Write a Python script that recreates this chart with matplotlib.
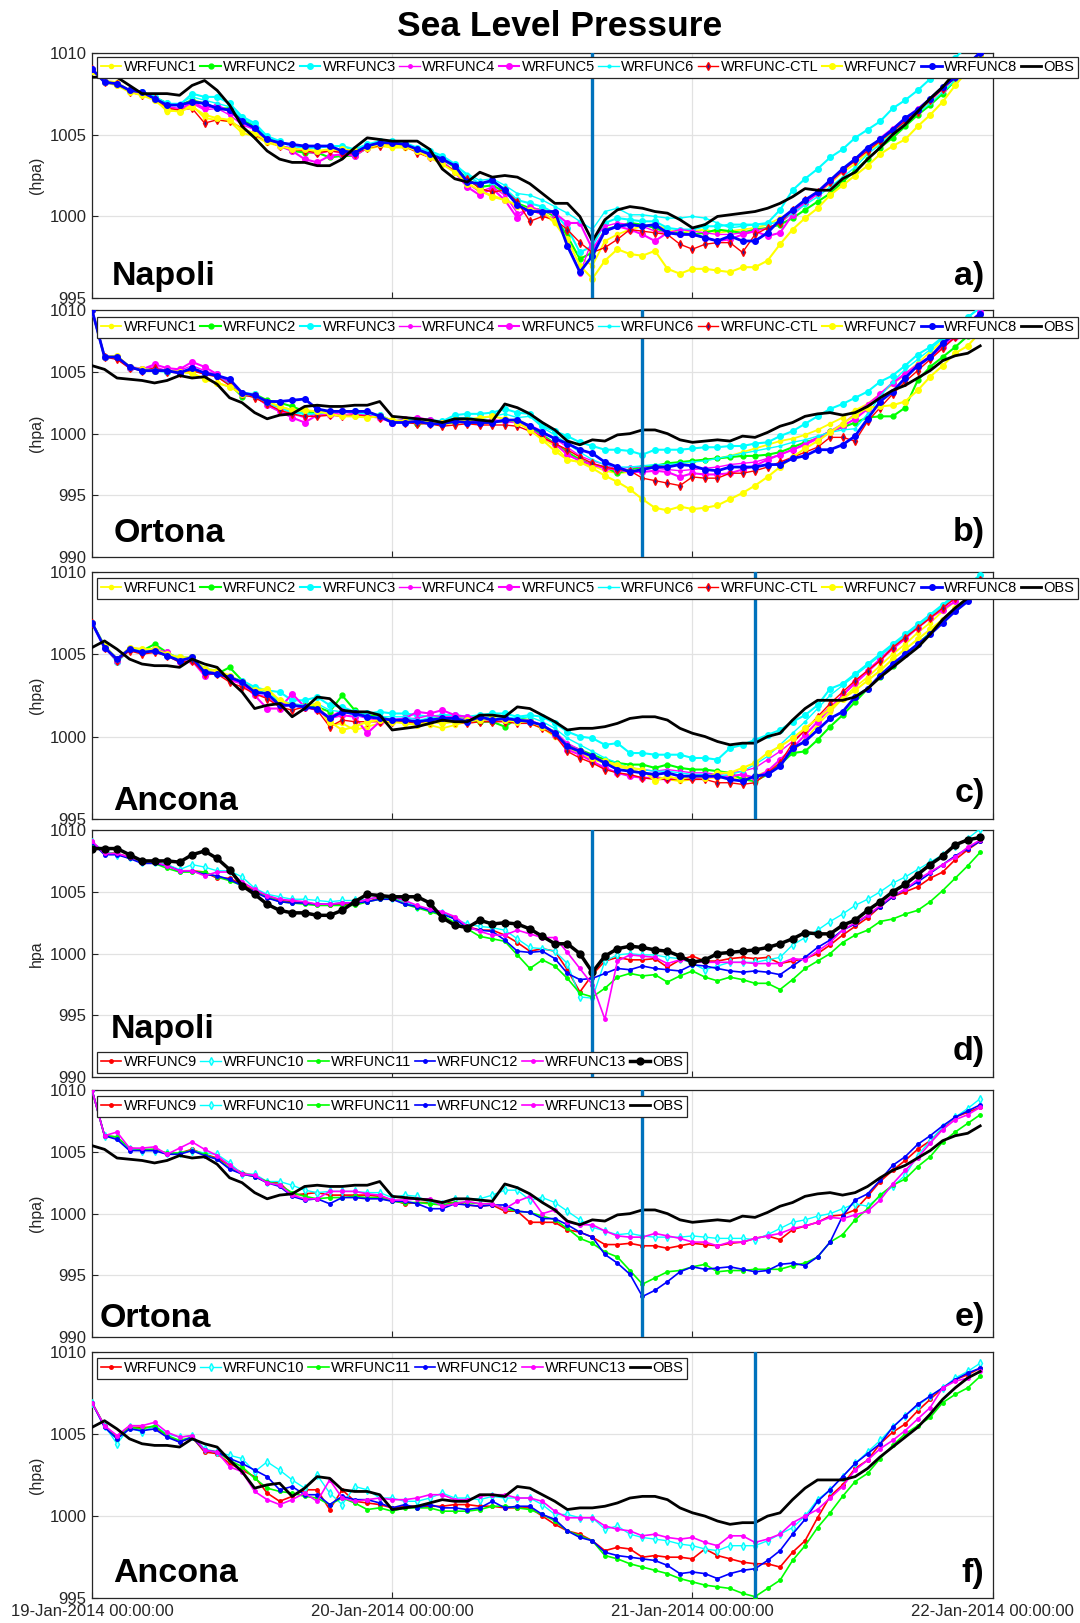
import numpy as np
import matplotlib
matplotlib.use('Agg')
import matplotlib.pyplot as plt
import matplotlib.dates as mdates

plt.rcParams['font.family'] = ['Liberation Sans', 'DejaVu Sans']

# ---------------- data (hourly, starting 19-Jan-2014 00:00) ----------------
napoli_obs = [1008.5,1008.5,1008.5,1008.0,1007.5,1007.5,1007.5,1007.4,1008.0,1008.3,1007.7,1006.8,
              1005.5,1004.8,1004.0,1003.5,1003.3,1003.3,1003.1,1003.1,1003.5,1004.2,1004.8,1004.7,
              1004.6,1004.6,1004.6,1004.1,1002.9,1002.3,1002.1,1002.7,1002.4,1002.5,1002.4,1002.0,
              1001.4,1000.8,1000.8,1000.0,998.5,999.8,1000.4,1000.6,1000.5,1000.3,1000.2,999.8,
              999.3,999.5,1000.0,1000.1,1000.2,1000.3,1000.5,1000.8,1001.2,1001.7,1001.6,1001.6,
              1002.3,1002.7,1003.5,1004.2,1005.0,1005.6,1006.4,1007.2,1007.9,1008.8,1009.2,1009.4]
ortona_obs = [1005.5,1005.2,1004.5,1004.4,1004.3,1004.1,1004.3,1004.7,1004.5,1004.6,1004.0,1002.9,
              1002.5,1001.7,1001.2,1001.5,1001.6,1002.2,1002.3,1002.2,1002.2,1002.3,1002.3,1002.6,
              1001.4,1001.3,1001.2,1001.1,1000.9,1001.2,1001.2,1001.1,1001.0,1002.4,1002.1,1001.6,
              1000.9,1000.3,999.4,999.1,999.5,999.4,999.9,1000.0,1000.3,1000.3,1000.0,999.5,
              999.3,999.4,999.5,999.4,999.8,999.7,1000.1,1000.6,1000.9,1001.4,1001.6,1001.7,
              1001.5,1001.7,1002.2,1002.9,1003.5,1003.9,1004.5,1005.1,1005.9,1006.3,1006.5,1007.1]
ancona_obs = [1005.4,1005.8,1005.3,1004.7,1004.4,1004.3,1004.3,1004.2,1004.7,1004.4,1004.2,1003.4,
              1002.7,1001.7,1001.9,1002.0,1001.2,1001.7,1002.4,1002.3,1001.6,1001.5,1001.5,1001.3,
              1000.4,1000.5,1000.6,1000.8,1001.0,1000.9,1000.9,1001.3,1001.3,1001.2,1001.8,1001.7,
              1001.3,1000.9,1000.4,1000.5,1000.5,1000.6,1000.8,1001.1,1001.2,1001.2,1001.0,1000.5,
              1000.2,1000.0,999.7,999.5,999.6,999.6,1000.0,1000.2,1001.0,1001.7,1002.2,1002.2,
              1002.2,1002.4,1002.9,1003.6,1004.2,1004.8,1005.4,1006.2,1007.1,1007.8,1008.4,1008.8]

# ---- Napoli, runs 1-8 + CTL ----
nap_w1 = [1008.8,1008.3,1008.2,1007.7,1007.5,1007.2,1006.4,1006.5,1006.8,1006.0,1005.9,1005.8,
          1005.1,1004.9,1004.5,1004.3,1004.1,1004.0,1003.9,1004.0,1004.0,1003.9,1004.1,1004.3,
          1004.2,1004.2,1004.0,1003.6,1003.3,1002.8,1002.1,1001.5,1001.3,1001.0,1000.6,1000.3,
          1000.2,999.6,998.5,997.5,997.0,998.5,998.9,999.2,999.4,999.5,999.2,999.0,
          999.1,999.2,999.0,999.1,999.2,999.3,999.5,999.9,1000.3,1000.8,1001.4,1002.0,
          1002.7,1003.2,1003.9,1004.5,1005.1,1005.6,1006.2,1006.9,1007.6,1008.3,1009.1,1009.8]
nap_w2 = [1009.0,1008.2,1008.1,1007.7,1007.6,1007.3,1006.9,1006.8,1007.1,1006.9,1006.6,1006.6,
          1005.9,1005.5,1004.8,1004.4,1004.0,1003.9,1003.9,1003.6,1003.7,1003.7,1004.2,1004.4,
          1004.5,1004.4,1004.1,1003.8,1003.5,1003.0,1002.3,1001.8,1001.9,1001.5,1000.8,1000.5,
          1000.4,1000.0,998.8,997.4,997.8,999.2,999.4,999.6,999.5,999.3,999.0,999.0,
          998.9,999.0,999.2,999.1,999.0,999.2,999.3,999.5,999.9,1000.4,1000.9,1001.4,
          1002.1,1002.8,1003.5,1004.2,1004.8,1005.5,1006.2,1006.8,1007.5,1008.3,1009.1,1009.9]
nap_w3 = [1009.0,1008.2,1008.1,1007.7,1007.6,1007.3,1006.9,1006.8,1007.5,1007.3,1007.3,1006.9,
          1006.1,1005.7,1004.9,1004.6,1004.3,1004.2,1004.2,1004.3,1004.3,1004.1,1004.4,1004.6,
          1004.6,1004.5,1004.2,1004.0,1003.7,1003.2,1002.5,1002.0,1002.1,1001.7,1001.0,1000.8,
          1000.6,1000.2,999.3,997.8,998.2,999.6,999.9,999.8,999.7,999.7,999.3,999.2,
          999.2,999.4,999.4,999.5,999.5,999.5,999.6,1000.4,1001.6,1002.3,1002.9,1003.6,
          1004.1,1004.8,1005.3,1005.8,1006.6,1007.1,1007.7,1008.4,1009.0,1009.7,1010.4,1011.0]
nap_w4 = [1009.0,1008.2,1008.1,1007.6,1007.5,1007.2,1006.7,1006.6,1006.9,1006.5,1006.6,1006.2,
          1005.6,1005.3,1004.6,1004.3,1004.2,1004.0,1003.8,1004.0,1003.9,1003.8,1004.2,1004.4,
          1004.4,1004.3,1004.0,1003.7,1003.4,1002.7,1002.0,1001.5,1001.8,1001.3,1000.2,1000.4,
          1000.1,999.9,998.4,996.5,998.6,999.4,999.6,999.5,999.4,999.1,999.0,999.2,
          999.1,999.0,998.9,998.9,999.0,999.1,999.3,999.6,1000.2,1000.9,1001.5,1002.1,
          1002.8,1003.4,1004.1,1004.8,1005.4,1006.0,1006.6,1007.2,1007.9,1008.6,1009.3,1010.0]
nap_w5 = [1009.0,1008.2,1008.1,1007.7,1007.5,1007.2,1006.6,1006.5,1007.0,1006.6,1006.8,1006.4,
          1005.8,1005.3,1004.7,1004.3,1004.0,1003.5,1003.3,1003.7,1003.8,1003.7,1004.2,1004.4,
          1004.5,1004.3,1004.0,1003.6,1003.3,1002.7,1001.8,1001.3,1001.7,1001.0,999.9,1000.6,
          1000.3,1000.2,999.6,999.6,998.0,999.1,999.4,999.2,998.9,998.5,999.0,998.9,
          998.9,998.7,998.5,998.6,998.9,999.1,998.8,999.0,1000.1,1000.8,1001.4,1002.1,
          1002.8,1003.5,1004.1,1004.7,1005.3,1005.9,1006.5,1007.1,1007.8,1008.5,1009.2,1010.0]
nap_w6 = [1009.0,1008.2,1008.1,1007.7,1007.6,1007.3,1006.9,1006.9,1007.3,1007.1,1006.9,1006.7,
          1006.0,1005.6,1004.8,1004.5,1004.3,1004.2,1004.2,1004.3,1004.3,1004.0,1004.4,1004.5,
          1004.5,1004.4,1004.2,1003.9,1003.6,1003.1,1002.6,1002.2,1002.3,1001.9,1001.4,1001.3,
          1001.0,1000.6,1000.2,999.7,999.2,1000.3,1000.5,1000.1,1000.1,1000.0,999.9,999.9,
          1000.0,999.9,999.6,999.3,999.4,999.5,999.5,999.7,1000.2,1000.7,1001.2,1001.8,
          1002.4,1003.0,1003.8,1004.4,1005.1,1005.7,1006.3,1006.9,1007.6,1008.3,1009.1,1009.9]
nap_ctl = [1009.0,1008.2,1008.1,1007.6,1007.4,1007.2,1006.6,1006.5,1006.6,1005.7,1005.9,1005.8,
           1005.4,1005.0,1004.6,1004.3,1004.1,1004.0,1003.9,1004.0,1003.9,1003.8,1004.2,1004.3,
           1004.4,1004.3,1003.9,1003.6,1003.2,1002.8,1002.3,1001.7,1001.5,1001.6,1000.9,999.7,
           1000.0,999.8,999.2,998.4,997.8,998.1,998.6,999.2,999.1,999.0,998.9,998.3,
           998.0,998.3,998.4,998.4,997.8,998.9,999.3,999.6,1000.4,1001.0,1001.5,1002.1,
           1002.8,1003.4,1004.0,1004.6,1005.2,1005.8,1006.4,1007.1,1007.8,1008.5,1009.2,1009.9]
nap_w7 = [1008.9,1008.2,1008.0,1007.6,1007.4,1007.1,1006.5,1006.4,1006.7,1006.2,1006.0,1005.9,
          1005.3,1005.1,1004.6,1004.3,1004.1,1004.1,1004.0,1004.1,1004.1,1004.0,1004.2,1004.4,
          1004.3,1004.3,1004.0,1003.6,1003.2,1002.7,1002.0,1001.6,1001.2,1001.0,1000.7,1000.4,
          1000.3,999.7,998.6,997.0,996.2,997.3,998.0,997.7,997.6,997.9,996.8,996.5,
          996.8,996.8,996.7,996.6,996.9,996.9,997.3,998.3,999.2,999.9,1000.5,1001.3,
          1001.9,1002.5,1003.1,1003.8,1004.3,1004.7,1005.5,1006.2,1007.0,1008.0,1008.9,1009.8]
nap_w8 = [1009.0,1008.2,1008.1,1007.7,1007.6,1007.2,1006.8,1006.8,1007.0,1006.9,1006.6,1006.5,
          1005.8,1005.4,1004.7,1004.5,1004.4,1004.3,1004.3,1004.3,1004.0,1003.9,1004.3,1004.5,
          1004.5,1004.4,1004.1,1003.8,1003.5,1003.1,1002.1,1002.0,1002.2,1001.6,1000.7,1000.3,
          1000.3,1000.3,998.2,996.6,997.6,999.1,999.4,999.5,999.4,999.5,999.0,998.9,
          998.9,998.7,998.5,998.8,998.5,998.5,999.0,999.8,1000.4,1001.0,1001.5,1002.2,
          1002.9,1003.5,1004.2,1004.7,1005.3,1006.0,1006.5,1007.2,1007.9,1008.5,1009.3,1010.0]

# ---- Ortona, runs 1-8 + CTL ----
ort_w1 = [1010.0,1006.2,1006.3,1005.4,1005.2,1005.1,1005.1,1005.0,1004.9,1004.4,1004.1,1003.8,
          1003.2,1003.0,1002.6,1002.2,1001.9,1001.7,1001.8,1001.6,1001.5,1001.5,1001.3,1001.4,
          1001.0,1000.9,1000.9,1000.8,1000.7,1000.9,1000.9,1000.8,1000.9,1001.0,1001.2,1000.6,
          999.6,999.0,997.9,997.7,997.4,997.0,996.8,996.9,997.1,997.3,997.5,997.6,
          997.7,997.9,998.0,998.2,998.5,998.8,999.1,999.4,999.6,999.9,1000.3,1000.8,
          1001.3,1001.9,1002.4,1003.2,1004.0,1004.8,1005.7,1006.6,1007.5,1008.3,1009.0,1009.5]
ort_w2 = [1010.0,1006.2,1006.2,1005.4,1005.1,1005.2,1005.0,1005.0,1005.1,1004.9,1004.8,1004.0,
          1003.0,1003.2,1002.7,1002.5,1002.2,1001.8,1001.7,1001.7,1001.8,1001.7,1001.6,1001.5,
          1001.0,1001.0,1000.8,1000.9,1000.9,1000.9,1001.0,1000.9,1000.9,1001.0,1001.0,1000.5,
          999.9,999.2,998.5,997.9,997.5,997.3,996.8,997.1,997.3,997.4,997.6,997.7,
          997.8,997.9,998.0,998.1,998.2,998.2,998.3,998.5,998.9,999.3,999.6,1000.2,
          1000.5,1000.9,1001.3,1001.4,1001.4,1002.1,1004.3,1005.4,1006.2,1007.0,1007.9,1008.7]
ort_w3 = [1010.0,1006.2,1006.2,1005.3,1005.2,1005.1,1005.0,1005.0,1005.2,1004.9,1004.8,1004.1,
          1003.3,1003.2,1002.5,1002.1,1001.7,1001.6,1001.6,1001.7,1001.8,1001.8,1001.6,1001.5,
          1001.0,1001.1,1001.2,1001.1,1001.0,1001.5,1001.6,1001.6,1001.7,1002.0,1001.7,1001.6,
          1000.6,1000.2,999.8,999.3,999.0,998.7,998.7,998.6,998.3,998.7,998.7,998.7,
          998.8,998.9,998.9,999.0,999.0,999.2,999.3,999.8,1000.2,1000.8,1001.4,1002.0,
          1002.4,1002.9,1003.4,1004.2,1004.7,1005.5,1006.4,1007.0,1007.8,1008.7,1009.4,1010.2]
ort_w4 = [1010.0,1006.2,1006.2,1005.4,1005.3,1005.4,1005.1,1005.1,1005.5,1005.1,1004.7,1004.0,
          1003.1,1003.0,1002.3,1001.8,1001.6,1001.3,1001.6,1001.7,1001.5,1001.5,1001.5,1001.3,
          1001.0,1001.1,1001.1,1001.0,1000.9,1001.0,1001.0,1000.9,1000.9,1001.0,1001.0,1000.7,
          1000.2,999.6,998.9,998.2,997.8,997.5,997.1,997.3,997.3,997.2,997.1,997.0,
          997.1,997.2,997.3,997.5,997.6,997.7,998.0,998.3,998.7,999.2,999.7,1000.2,
          1000.8,1001.6,1002.4,1003.2,1004.1,1004.9,1005.6,1006.3,1007.1,1008.0,1008.9,1009.8]
ort_w5 = [1010.0,1006.2,1006.2,1005.3,1005.2,1005.6,1005.3,1005.2,1005.8,1005.4,1004.8,1004.1,
          1003.2,1003.1,1002.3,1001.8,1001.3,1000.9,1001.5,1001.5,1001.8,1001.6,1001.4,1001.3,
          1000.9,1001.2,1001.3,1001.1,1000.9,1001.0,1001.0,1000.9,1001.1,1001.0,1000.9,1000.4,
          999.7,999.2,998.3,997.8,997.5,997.2,997.1,996.9,996.9,997.0,996.9,996.5,
          996.8,996.7,996.7,996.8,997.1,997.4,997.9,998.3,998.7,999.1,999.6,1000.1,
          1000.6,1001.2,1002.0,1003.2,1004.1,1004.8,1005.4,1006.2,1007.0,1007.8,1008.8,1009.8]
ort_w6 = [1010.0,1006.2,1006.2,1005.4,1005.2,1005.2,1005.0,1005.0,1005.2,1004.9,1004.6,1004.0,
          1003.2,1003.0,1002.5,1002.2,1001.9,1001.6,1001.6,1001.7,1001.8,1001.7,1001.6,1001.5,
          1001.0,1001.1,1001.2,1001.0,1000.9,1001.3,1001.3,1001.2,1001.4,1001.6,1001.3,1001.4,
          1000.5,999.9,999.2,998.5,997.9,997.5,997.3,997.3,997.4,997.5,997.5,997.6,
          997.7,997.8,998.0,998.2,998.4,998.6,998.8,999.0,999.3,999.5,999.8,1000.1,
          1000.3,1000.4,1001.6,1003.0,1004.2,1005.2,1006.0,1006.8,1007.7,1008.6,1009.4,1010.2]
ort_ctl = [1010.0,1006.2,1006.0,1005.3,1005.1,1005.3,1005.0,1004.9,1005.1,1004.8,1004.6,1003.9,
           1003.2,1002.9,1002.4,1001.9,1001.6,1001.4,1001.4,1001.5,1001.4,1001.5,1001.4,1001.3,
           1001.0,1000.9,1000.8,1000.8,1000.6,1000.7,1000.8,1000.7,1000.7,1000.7,1000.6,1000.2,
           999.7,999.2,998.7,998.1,997.6,997.3,997.1,997.0,996.4,996.2,996.0,995.8,
           996.5,996.4,996.4,996.8,996.8,997.0,997.3,997.7,998.1,998.5,998.9,999.7,
           999.7,999.4,1001.0,1002.1,1003.2,1004.2,1005.1,1006.0,1006.9,1007.8,1008.7,1009.6]
ort_w7 = [1010.0,1006.2,1006.3,1005.4,1005.2,1005.1,1005.1,1005.0,1004.9,1004.4,1004.1,1003.8,
          1003.2,1003.1,1002.6,1002.2,1001.9,1001.9,1001.8,1001.6,1001.4,1001.4,1001.3,1001.4,
          1001.1,1001.0,1001.0,1000.9,1000.9,1001.1,1001.1,1001.3,1001.4,1001.2,1000.9,1000.3,
          999.5,998.6,997.9,997.7,997.2,996.6,996.1,995.5,994.7,994.0,993.8,994.1,
          993.9,994.0,994.2,994.7,995.2,995.8,996.5,997.3,998.1,998.8,999.4,1000.1,
          1000.8,1001.5,1002.1,1002.2,1002.3,1002.6,1003.5,1004.6,1005.5,1006.5,1007.1,1008.2]
ort_w8 = [1010.0,1006.2,1006.2,1005.4,1005.1,1005.1,1005.1,1004.9,1005.3,1004.9,1004.7,1004.4,
          1003.3,1003.1,1002.6,1002.6,1002.7,1002.8,1002.0,1001.8,1001.8,1001.8,1001.8,1001.4,
          1000.9,1000.9,1001.0,1000.8,1000.8,1001.0,1000.9,1000.9,1000.9,1001.1,1001.1,1000.6,
          1000.1,999.6,999.2,998.7,998.4,997.7,997.3,996.9,997.1,997.3,997.3,997.5,
          997.4,997.1,997.0,997.3,997.3,997.3,997.5,997.5,998.0,998.2,998.7,998.7,
          999.1,999.8,1001.2,1002.6,1003.4,1004.5,1005.5,1006.2,1007.3,1008.1,1008.9,1009.7]

# ---- Ancona, runs 1-8 + CTL ----
anc_w1 = [1006.9,1005.5,1004.6,1005.4,1005.3,1005.3,1004.9,1004.7,1004.8,1004.0,1003.9,1003.6,
          1003.2,1002.8,1002.8,1002.1,1002.0,1001.8,1002.0,1000.7,1000.8,1000.4,1000.6,1000.8,
          1000.9,1000.9,1000.7,1000.7,1000.5,1000.7,1000.9,1000.9,1001.1,1001.0,1000.9,1000.8,
          1000.5,1000.0,999.3,999.0,998.6,998.4,998.2,998.0,997.8,997.6,997.4,997.3,
          997.4,997.5,997.5,997.5,997.5,997.6,997.9,998.4,999.1,999.8,1000.7,1001.5,
          1002.3,1003.0,1003.6,1004.3,1005.0,1005.6,1006.3,1006.9,1007.6,1008.2,1008.8,1009.4]
anc_w2 = [1006.9,1005.5,1004.7,1005.3,1005.2,1005.6,1005.1,1004.7,1004.8,1004.0,1003.8,1004.2,
          1003.4,1002.8,1002.6,1002.0,1001.9,1001.9,1001.8,1001.5,1002.5,1001.6,1001.3,1001.2,
          1001.0,1001.0,1000.9,1001.1,1001.1,1001.1,1001.1,1000.9,1000.9,1000.6,1001.1,1001.0,
          1000.6,1000.3,999.5,999.2,998.9,998.6,998.4,998.3,998.3,998.1,998.3,998.1,
          998.0,998.0,997.9,997.8,997.4,997.3,997.7,998.3,999.0,999.1,999.8,1000.6,
          1001.3,1002.1,1002.9,1003.6,1004.3,1005.0,1005.6,1006.3,1007.0,1007.7,1008.4,1009.1]
anc_w3 = [1006.9,1005.5,1004.5,1005.3,1005.1,1005.3,1005.0,1004.8,1004.8,1004.1,1004.0,1003.6,
          1003.4,1003.0,1002.8,1002.7,1002.2,1002.2,1002.4,1001.9,1001.8,1001.5,1001.4,1001.5,
          1001.4,1001.4,1001.3,1001.2,1001.3,1001.3,1001.2,1001.3,1001.4,1001.4,1001.2,1001.3,
          1001.2,1000.8,1000.3,1000.0,999.9,999.5,999.6,999.0,999.0,998.9,998.9,998.9,
          998.7,998.7,998.6,999.3,999.5,999.8,1000.1,1000.4,1000.9,1001.3,1001.9,1002.9,
          1003.2,1003.8,1004.4,1005.0,1005.6,1006.2,1006.8,1007.4,1008.0,1008.6,1009.2,1009.8]
anc_w4 = [1006.9,1005.4,1004.6,1005.3,1005.2,1005.3,1005.0,1004.6,1004.8,1003.9,1003.9,1003.4,
          1003.2,1002.6,1002.4,1001.8,1001.9,1001.7,1001.7,1001.2,1001.6,1001.3,1001.1,1001.0,
          1001.0,1001.1,1001.1,1001.3,1001.2,1001.2,1001.0,1001.1,1001.1,1001.0,1001.0,1001.0,
          1000.7,1000.3,999.6,999.2,998.8,998.5,998.3,998.1,998.0,997.9,998.0,997.9,
          997.8,997.8,997.7,997.8,997.9,998.1,998.6,999.1,999.7,1000.4,1001.1,1001.8,
          1002.5,1003.2,1003.9,1004.6,1005.3,1005.9,1006.6,1007.2,1007.8,1008.4,1009.0,1009.6]
anc_w5 = [1006.9,1005.4,1004.6,1005.3,1005.1,1005.3,1005.1,1004.5,1004.6,1003.7,1003.9,1003.5,
          1003.2,1002.5,1001.7,1001.7,1002.6,1001.8,1001.6,1001.1,1001.3,1001.2,1000.2,1000.9,
          1001.0,1001.1,1001.5,1001.4,1001.6,1001.3,1001.2,1001.1,1001.0,1001.1,1001.0,1000.9,
          1000.6,1000.1,999.2,998.9,998.5,998.1,997.8,997.6,997.5,997.5,997.4,997.5,
          997.5,997.5,997.6,997.6,997.7,997.5,997.9,998.6,999.3,1000.1,1000.9,1001.7,
          1002.5,1003.3,1004.0,1004.7,1005.4,1006.0,1006.6,1007.2,1007.7,1008.2,1008.7,1009.3]
anc_w6 = [1006.9,1005.4,1004.6,1005.4,1005.2,1005.3,1005.0,1004.7,1004.8,1004.1,1004.0,1003.6,
          1003.3,1002.8,1002.6,1002.2,1002.0,1001.9,1002.0,1001.6,1001.5,1001.3,1001.2,1001.2,
          1001.2,1001.2,1001.0,1001.1,1001.1,1001.1,1001.0,1001.1,1001.2,1001.2,1001.1,1001.2,
          1000.9,1000.5,999.9,999.5,999.1,998.7,998.4,998.1,998.0,997.9,997.9,997.8,
          997.7,997.7,997.6,997.7,997.9,998.3,998.8,999.5,1000.2,1000.9,1001.7,1002.5,
          1003.1,1003.7,1004.3,1004.9,1005.5,1006.1,1006.7,1007.3,1007.9,1008.5,1009.1,1009.7]
anc_ctl = [1006.9,1005.4,1004.6,1005.2,1005.0,1005.1,1004.9,1004.5,1004.6,1003.8,1003.8,1003.3,
           1003.0,1002.6,1002.3,1001.8,1001.6,1001.8,1001.6,1000.6,1001.0,1000.9,1000.9,1000.9,
           1000.9,1000.9,1000.8,1000.9,1000.9,1000.9,1000.8,1000.9,1000.9,1000.9,1000.8,1000.8,
           1000.5,1000.1,999.1,998.7,998.4,998.0,997.8,997.7,997.5,997.4,997.4,997.4,
           997.4,997.4,997.2,997.2,997.1,997.2,997.8,998.4,999.6,1000.4,1001.2,1002.0,
           1002.7,1003.4,1004.0,1004.6,1005.4,1006.0,1006.6,1007.2,1007.8,1008.4,1009.0,1009.5]
anc_w7 = [1006.9,1005.5,1004.7,1005.4,1005.3,1005.3,1005.0,1004.8,1004.8,1004.1,1004.0,1003.7,
          1003.3,1002.8,1002.9,1002.2,1001.9,1001.8,1002.0,1000.9,1000.4,1000.6,1000.9,1001.0,
          1000.9,1000.8,1000.7,1000.9,1000.8,1000.9,1001.0,1001.0,1001.1,1001.0,1000.9,1000.9,
          1000.6,1000.2,999.4,999.1,998.7,998.5,998.3,998.1,998.0,997.3,997.6,997.4,
          997.6,997.5,997.8,997.8,998.1,998.4,999.0,999.4,999.9,1000.5,1001.1,1001.7,
          1002.3,1002.8,1003.4,1004.0,1004.7,1005.3,1005.9,1006.5,1007.1,1007.8,1008.4,1009.0]
anc_w8 = [1006.9,1005.4,1004.7,1005.3,1005.1,1005.2,1004.9,1004.6,1004.8,1003.9,1003.8,1003.6,
          1003.3,1002.7,1002.6,1001.9,1001.9,1001.8,1001.7,1001.1,1001.5,1001.4,1001.2,1001.1,
          1001.0,1001.0,1000.9,1001.0,1001.1,1001.1,1000.9,1001.2,1001.0,1001.1,1001.0,1000.9,
          1000.7,1000.2,999.4,999.1,998.8,998.4,998.0,997.9,997.8,997.7,997.8,997.6,
          997.6,997.6,997.6,997.4,997.3,997.6,997.7,998.2,999.3,999.7,1000.4,1001.1,
          1001.5,1002.4,1002.9,1003.7,1004.4,1005.0,1005.6,1006.2,1006.9,1007.6,1008.2,1008.9]

# ---- Napoli, runs 9-13 ----
nap_w9 = [1009.0,1008.2,1008.1,1007.8,1007.4,1007.4,1007.2,1006.7,1006.7,1006.6,1006.1,1006.1,
          1005.6,1005.1,1004.7,1004.3,1004.2,1004.1,1004.0,1003.9,1004.0,1004.0,1004.2,1004.5,
          1004.5,1004.2,1003.8,1003.5,1003.3,1002.9,1002.2,1001.9,1001.9,1001.5,1000.9,1000.2,
          1000.4,1000.2,998.7,996.9,998.3,999.4,999.7,999.5,999.5,999.6,998.9,999.5,
          999.8,999.4,999.4,999.6,999.7,999.6,999.7,999.2,999.4,999.6,1000.0,1000.7,
          1001.5,1002.2,1002.9,1003.8,1004.6,1005.0,1005.4,1006.1,1006.6,1007.6,1008.4,1009.1]
nap_w10 = [1009.0,1008.3,1008.0,1007.8,1007.4,1007.4,1007.2,1006.8,1007.2,1007.0,1006.7,1006.7,
           1006.2,1005.3,1004.8,1004.6,1004.4,1004.4,1004.3,1004.2,1004.3,1004.3,1004.4,1004.6,
           1004.5,1004.2,1003.8,1003.6,1003.3,1002.8,1002.4,1002.2,1002.1,1001.9,1001.2,1000.5,
           1000.4,1000.2,999.2,996.5,996.4,999.4,999.9,1000.0,999.9,999.9,999.7,999.6,
           999.2,998.7,999.0,999.3,999.3,999.3,999.5,999.7,1000.7,1001.3,1001.9,1002.6,
           1003.2,1003.9,1004.4,1005.0,1005.7,1006.2,1006.8,1007.4,1008.0,1008.7,1009.3,1010.1]
nap_w11 = [1009.0,1008.1,1008.1,1007.7,1007.5,1007.3,1006.9,1006.6,1006.6,1006.6,1006.2,1005.9,
           1005.5,1005.0,1004.6,1004.2,1004.1,1004.0,1003.9,1003.9,1003.9,1003.9,1004.2,1004.4,
           1004.5,1004.0,1003.7,1003.4,1003.1,1002.5,1002.0,1001.4,1001.2,1001.0,999.9,998.8,
           999.5,999.0,998.0,996.8,996.5,997.2,998.1,998.4,998.2,998.3,997.7,998.2,
           998.6,998.1,997.8,998.1,997.9,997.6,997.6,997.1,997.9,998.8,999.4,1000.0,
           1000.9,1001.5,1001.9,1002.6,1002.8,1003.2,1003.5,1004.2,1005.1,1006.1,1007.1,1008.2]
nap_w12 = [1009.0,1008.0,1008.0,1007.7,1007.3,1007.3,1007.1,1006.7,1006.7,1006.4,1006.3,1006.0,
           1005.5,1005.0,1004.5,1004.2,1004.1,1004.1,1004.0,1004.0,1004.1,1004.1,1004.2,1004.4,
           1004.4,1004.0,1003.8,1003.5,1003.2,1002.8,1002.1,1001.9,1001.8,1001.1,1000.2,1000.1,
           1000.2,999.6,998.4,997.9,998.0,998.4,998.8,998.7,999.0,998.8,998.7,998.6,
           999.1,999.0,998.8,998.6,998.5,998.6,998.5,998.3,999.0,999.7,1000.5,1001.1,
           1001.9,1002.4,1003.1,1003.8,1004.6,1005.2,1005.8,1006.5,1007.2,1007.9,1008.5,1009.1]
nap_w13 = [1009.1,1008.1,1008.1,1007.8,1007.5,1007.4,1007.1,1006.7,1006.7,1006.3,1006.6,1006.6,
           1005.8,1005.2,1004.7,1004.4,1004.3,1004.2,1004.0,1004.0,1004.1,1004.1,1004.4,1004.6,
           1004.6,1004.3,1003.9,1003.6,1003.4,1003.0,1002.2,1001.8,1001.5,1001.5,1001.9,1001.6,
           1001.3,1001.3,1000.1,998.8,997.5,994.7,999.4,999.9,999.8,999.7,999.2,999.5,
           999.4,999.3,999.3,999.3,999.3,999.2,999.2,999.2,999.6,999.5,1000.2,1000.9,
           1001.9,1002.5,1003.1,1003.9,1004.7,1005.2,1006.0,1006.6,1007.2,1007.8,1008.6,1009.2]

# ---- Ortona, runs 9-13 ----
ort_w9 = [1010.0,1006.3,1006.2,1005.2,1005.1,1005.2,1004.8,1004.9,1005.2,1004.8,1004.5,1003.9,
          1003.3,1003.1,1002.5,1002.5,1001.5,1001.6,1001.7,1001.5,1001.5,1001.5,1001.5,1001.4,
          1001.1,1000.8,1000.9,1000.9,1000.9,1000.9,1000.7,1000.6,1000.7,1000.2,1000.2,999.3,
          999.3,999.3,998.7,998.5,998.1,997.5,997.5,997.6,997.4,997.4,997.2,997.4,
          997.6,997.5,997.4,997.6,997.7,998.0,998.2,997.9,998.7,999.0,999.3,999.8,
          999.9,1000.3,1001.4,1002.6,1003.5,1004.3,1005.2,1005.9,1006.9,1007.8,1008.2,1008.6]
ort_w10 = [1010.0,1006.3,1006.2,1005.2,1005.1,1005.1,1004.9,1004.9,1005.1,1004.9,1004.8,1004.1,
           1003.2,1003.2,1002.6,1002.6,1002.3,1001.9,1001.7,1001.8,1001.8,1001.8,1001.7,1001.7,
           1001.3,1001.5,1001.4,1000.9,1000.8,1001.2,1001.2,1001.2,1001.5,1001.9,1001.9,1001.1,
           1001.3,1000.9,1000.2,999.5,998.9,998.6,998.3,998.4,998.2,998.1,998.1,998.1,
           998.2,998.1,998.0,998.0,998.0,997.9,998.3,998.8,999.3,999.5,999.8,1000.0,
           1000.4,1000.8,1000.6,1001.4,1002.2,1003.1,1004.7,1005.9,1007.0,1007.8,1008.5,1009.3]
ort_w11 = [1010.0,1006.3,1006.2,1005.3,1005.2,1005.2,1004.9,1004.9,1005.1,1004.8,1004.4,1003.7,
           1003.2,1003.0,1002.6,1002.3,1001.7,1001.4,1001.2,1001.3,1001.3,1001.4,1001.3,1001.3,
           1001.0,1000.9,1000.9,1000.8,1000.7,1000.9,1000.9,1000.8,1000.8,1000.4,1000.2,1000.1,
           999.8,999.5,998.8,998.0,997.6,996.9,996.5,995.4,994.3,994.8,995.3,995.4,
           995.7,995.9,995.3,995.4,995.4,995.5,995.5,995.5,995.8,996.0,996.5,997.7,
           998.3,999.5,1000.4,1001.5,1002.3,1002.8,1003.8,1004.6,1005.8,1006.6,1007.3,1008.0]
ort_w12 = [1010.0,1006.3,1006.0,1005.1,1005.1,1005.1,1004.8,1004.8,1005.1,1004.7,1004.4,1003.6,
           1003.2,1003.0,1002.5,1002.2,1001.4,1001.1,1001.2,1000.8,1001.3,1001.3,1001.2,1001.2,
           1001.0,1001.0,1000.8,1000.4,1000.4,1000.8,1000.7,1000.6,1000.7,1000.7,1000.2,1000.1,
           999.6,999.6,999.1,998.5,998.1,996.7,996.0,995.1,993.3,993.8,994.5,995.3,
           995.7,995.5,995.6,995.7,995.5,995.3,995.4,995.9,996.0,995.8,996.5,997.7,
           999.8,1001.1,1001.6,1002.7,1003.9,1004.6,1005.6,1006.3,1007.1,1007.8,1008.3,1008.8]
ort_w13 = [1010.0,1006.3,1006.6,1005.3,1005.3,1005.4,1004.8,1005.3,1005.8,1005.2,1004.7,1003.9,
           1003.2,1003.1,1002.5,1002.3,1001.5,1001.2,1001.2,1001.8,1001.8,1001.8,1001.6,1001.5,
           1001.1,1001.1,1001.2,1001.2,1000.6,1000.8,1001.0,1000.8,1000.8,1000.4,1001.0,1001.4,
           1000.0,1000.3,999.3,999.1,999.1,998.6,998.2,998.1,998.1,998.4,998.2,998.0,
           997.7,997.7,997.4,997.7,997.7,998.0,998.2,998.4,998.8,999.0,999.3,999.7,
           999.6,999.9,1000.2,1001.1,1002.4,1003.5,1004.5,1005.7,1006.8,1007.6,1008.0,1008.6]

# ---- Ancona, runs 9-13 ----
anc_w9 = [1006.9,1005.5,1004.8,1005.4,1005.4,1005.4,1004.9,1004.5,1004.8,1003.9,1003.8,1003.2,
          1002.8,1002.4,1001.4,1000.9,1001.2,1001.6,1001.6,1000.4,1001.6,1000.9,1000.8,1000.7,
          1000.5,1000.6,1000.6,1000.6,1000.6,1000.7,1000.7,1000.6,1000.6,1000.5,1000.5,1000.5,
          1000.0,999.5,999.1,998.9,998.5,997.9,998.1,998.0,997.5,997.6,997.5,997.5,
          997.4,998.0,997.6,997.4,997.2,997.1,997.1,996.9,997.8,998.5,999.9,1001.2,
          1001.9,1002.9,1003.4,1004.4,1005.1,1005.6,1006.4,1007.1,1007.8,1008.3,1008.6,1009.0]
anc_w10 = [1006.9,1005.5,1004.4,1005.4,1005.1,1005.5,1005.0,1004.8,1004.9,1004.1,1003.9,1003.7,
           1003.5,1002.7,1003.3,1002.8,1002.2,1001.7,1002.5,1001.4,1000.7,1001.8,1001.6,1001.1,
           1001.1,1000.9,1000.9,1001.1,1001.4,1001.1,1001.1,1001.0,1001.2,1001.1,1001.1,1001.1,
           1000.7,1000.1,1000.1,999.9,999.9,999.2,999.4,998.9,998.7,998.6,998.5,998.3,
           998.2,998.0,997.9,998.2,998.2,998.2,998.5,998.9,999.3,1000.0,1001.0,1001.6,
           1002.4,1003.2,1003.9,1004.6,1005.4,1006.1,1006.7,1007.3,1007.8,1008.4,1008.8,1009.3]
anc_w11 = [1006.9,1005.5,1004.7,1005.4,1005.3,1005.5,1004.9,1004.6,1004.8,1004.0,1003.9,1003.4,
           1003.0,1002.3,1001.7,1001.5,1001.4,1001.2,1001.1,1000.7,1001.1,1000.8,1000.4,1000.5,
           1000.3,1000.5,1000.5,1000.5,1000.3,1000.3,1000.3,1000.4,1000.6,1000.6,1000.5,1000.4,
           1000.1,999.7,999.1,998.8,998.5,997.6,997.4,997.1,996.9,996.7,996.5,996.2,
           996.0,995.8,995.7,995.6,995.3,995.1,995.6,996.1,997.3,998.2,999.3,1000.2,
           1001.2,1002.1,1002.6,1003.5,1004.3,1005.0,1005.5,1006.0,1006.9,1007.4,1007.8,1008.5]
anc_w12 = [1006.9,1005.4,1004.7,1005.3,1005.2,1005.3,1004.8,1004.5,1004.8,1004.0,1003.9,1003.5,
           1003.2,1002.8,1002.4,1001.6,1001.8,1001.3,1001.3,1000.7,1001.2,1001.0,1001.0,1000.8,
           1000.5,1000.7,1000.5,1000.7,1000.5,1000.5,1000.4,1000.5,1000.9,1000.5,1000.6,1000.6,
           1000.1,999.8,999.1,998.7,998.5,997.8,997.6,997.5,997.4,997.3,997.0,996.5,
           996.6,996.5,996.2,996.5,996.7,996.8,997.3,997.9,998.9,999.8,1000.9,1001.6,
           1002.4,1003.2,1003.8,1004.4,1005.4,1006.1,1006.8,1007.3,1007.8,1008.3,1008.7,1009.0]
anc_w13 = [1006.9,1005.5,1004.9,1005.5,1005.5,1005.7,1005.1,1004.8,1004.9,1004.0,1003.9,1003.0,
           1002.7,1001.5,1001.0,1000.7,1001.0,1001.4,1000.9,1002.2,1001.1,1000.9,1001.0,1001.1,
           1001.0,1001.0,1001.1,1001.3,1001.3,1001.0,1001.0,1001.2,1001.3,1001.3,1001.1,1001.1,
           1000.9,1000.3,999.9,999.9,999.9,999.4,999.2,999.1,998.8,998.9,998.7,998.6,
           998.7,998.4,998.2,998.8,998.8,998.4,998.6,998.9,999.6,1000.0,1000.4,1001.1,
           1001.8,1002.8,1003.4,1004.1,1004.6,1005.2,1005.9,1006.6,1007.8,1008.2,1008.4,1008.8]

labels_top = ['WRFUNC1', 'WRFUNC2', 'WRFUNC3', 'WRFUNC4', 'WRFUNC5', 'WRFUNC6',
              'WRFUNC-CTL', 'WRFUNC7', 'WRFUNC8', 'OBS']
labels_bot = ['WRFUNC9', 'WRFUNC10', 'WRFUNC11', 'WRFUNC12', 'WRFUNC13', 'OBS']
stations = ['Napoli', 'Ortona', 'Ancona', 'Napoli', 'Ortona', 'Ancona']
panel_tags = ['a)', 'b)', 'c)', 'd)', 'e)', 'f)']
event_times = ['2014-01-20T16:00', '2014-01-20T20:00', '2014-01-21T05:00',
               '2014-01-20T16:00', '2014-01-20T20:00', '2014-01-21T05:00']
y_limits = [(995, 1010), (990, 1010), (995, 1010), (990, 1010), (990, 1010), (995, 1010)]
y_labels = ['(hpa)', '(hpa)', '(hpa)', 'hpa', '(hpa)', '(hpa)']
day_ticks = ['2014-01-19', '2014-01-20', '2014-01-21', '2014-01-22']

panel_series = [
    [nap_w1, nap_w2, nap_w3, nap_w4, nap_w5, nap_w6, nap_ctl, nap_w7, nap_w8, napoli_obs],
    [ort_w1, ort_w2, ort_w3, ort_w4, ort_w5, ort_w6, ort_ctl, ort_w7, ort_w8, ortona_obs],
    [anc_w1, anc_w2, anc_w3, anc_w4, anc_w5, anc_w6, anc_ctl, anc_w7, anc_w8, ancona_obs],
    [nap_w9, nap_w10, nap_w11, nap_w12, nap_w13, napoli_obs],
    [ort_w9, ort_w10, ort_w11, ort_w12, ort_w13, ortona_obs],
    [anc_w9, anc_w10, anc_w11, anc_w12, anc_w13, ancona_obs],
]

# ---------------- styles ----------------
Y, G, C, M, R, B = (1, 1, 0), (0, 1, 0), (0, 1, 1), (1, 0, 1), (1, 0, 0), (0, 0, 1)
style_top = [
    dict(color=Y, marker='.', ms=6, lw=1.3),
    dict(color=G, marker='o', ms=3.5, lw=1.5),
    dict(color=C, marker='o', ms=4, lw=1.5),
    dict(color=M, marker='.', ms=5, lw=1.0),
    dict(color=M, marker='o', ms=4, lw=1.5),
    dict(color=C, marker='.', ms=4, lw=1.0),
    dict(color=R, marker='d', ms=4, mfc='#20209a', mec=R, lw=1.0),
    dict(color=Y, marker='o', ms=4, lw=1.5),
    dict(color=B, marker='o', ms=4, lw=2.0),
    dict(color='black', lw=2.0),
]
style_bot = [
    dict(color=R, marker='o', ms=2.5, lw=1.2),
    dict(color=C, marker='d', ms=4, mfc='#b8ffff', mec=C, lw=1.0),
    dict(color=G, marker='o', ms=2.5, lw=1.2),
    dict(color=B, marker='o', ms=2.5, lw=1.2),
    dict(color=M, marker='o', ms=2.5, lw=1.2),
    dict(color='black', lw=2.0),
]
obs_marked = dict(color='black', marker='o', ms=5, lw=2.5)

# ---------------- layout (pixel coordinates of the reference) ----------------
FW, FH = 1080, 1623
ax_px = [(52.7, 298.3), (310, 557.3), (571.7, 819), (830, 1077.3), (1090, 1337.3), (1351.7, 1598.3)]
AX_L, AX_R = 92, 992.7
leg_px = [(97.3, 56.7), (97.3, 316.7), (97.3, 577.7), (97.3, 1051.7), (97.3, 1095.7), (97.3, 1357.7)]
name_pos = [(0.022, 0.054), (0.024, 0.063), (0.024, 0.036), (0.021, 0.158), (0.009, 0.043), (0.023, 0.065)]
tag_pos = [(0.991, 0.054), (0.991, 0.066), (0.991, 0.069), (0.991, 0.07), (0.991, 0.047), (0.991, 0.065)]

fig = plt.figure(figsize=(FW / 100, FH / 100), dpi=100)
fig.text(560 / FW, 1 - 26 / FH, 'Sea Level Pressure', ha='center', va='center',
         fontsize=25.5, fontweight='bold')

t0 = np.datetime64('2014-01-19T00:00')
axcol = '#262626'
for i in range(6):
    top, bot = ax_px[i]
    ax = fig.add_axes([AX_L / FW, 1 - bot / FH, (AX_R - AX_L) / FW, (bot - top) / FH])
    series = panel_series[i]
    labels = labels_top if i < 3 else labels_bot
    styles = style_top if i < 3 else style_bot
    handles = []
    for k, (data, lab, st) in enumerate(zip(series, labels, styles)):
        if i == 3 and lab == 'OBS':
            st = obs_marked
        x = t0 + np.arange(len(data)) * np.timedelta64(1, 'h')
        h, = ax.plot(x, data, label=lab, zorder=3 + k * 0.01, clip_on=True, **st)
        handles.append(h)
    ax.axvline(np.datetime64(event_times[i]), color='#0072BD', lw=2.4, zorder=4)

    ax.set_xlim(np.datetime64(day_ticks[0]), np.datetime64(day_ticks[-1]))
    ax.set_ylim(*y_limits[i])
    ax.set_yticks(np.arange(y_limits[i][0], y_limits[i][1] + 1, 5))
    ax.set_xticks([np.datetime64(d) for d in day_ticks])
    ax.xaxis.set_major_formatter(mdates.DateFormatter('%d-%b-%Y %H:%M:%S'))
    if i < 5:
        ax.tick_params(axis='x', labelbottom=False)
    ax.tick_params(direction='in', length=4, width=0.8, labelsize=12, colors=axcol, pad=4)
    ax.grid(True, color='#e2e2e2', lw=0.9)
    ax.set_axisbelow(True)
    for sp in ax.spines.values():
        sp.set_color(axcol)
        sp.set_linewidth(0.9)
    ax.set_ylabel(y_labels[i], fontsize=11.5, color=axcol)
    ax.yaxis.set_label_coords(-0.053, 0.5)

    ax.text(name_pos[i][0], name_pos[i][1], stations[i], transform=ax.transAxes,
            fontsize=24.5, fontweight='bold', ha='left', va='baseline', zorder=6)
    ax.text(tag_pos[i][0], tag_pos[i][1], panel_tags[i], transform=ax.transAxes,
            fontsize=24.5, fontweight='bold', ha='right', va='baseline', zorder=6)

    lx, ly = leg_px[i]
    leg = ax.legend(handles=handles, loc='upper left',
                    bbox_to_anchor=(lx / FW, 1 - ly / FH), bbox_transform=fig.transFigure,
                    ncol=len(handles), fontsize=10.5, handlelength=1.4, handletextpad=0.15,
                    columnspacing=0.25, borderpad=0.25, borderaxespad=0, fancybox=False,
                    framealpha=1, edgecolor=axcol, numpoints=1)
    leg.get_frame().set_linewidth(0.9)
    leg.set_zorder(10)

fig.savefig('out.png', dpi=100)
